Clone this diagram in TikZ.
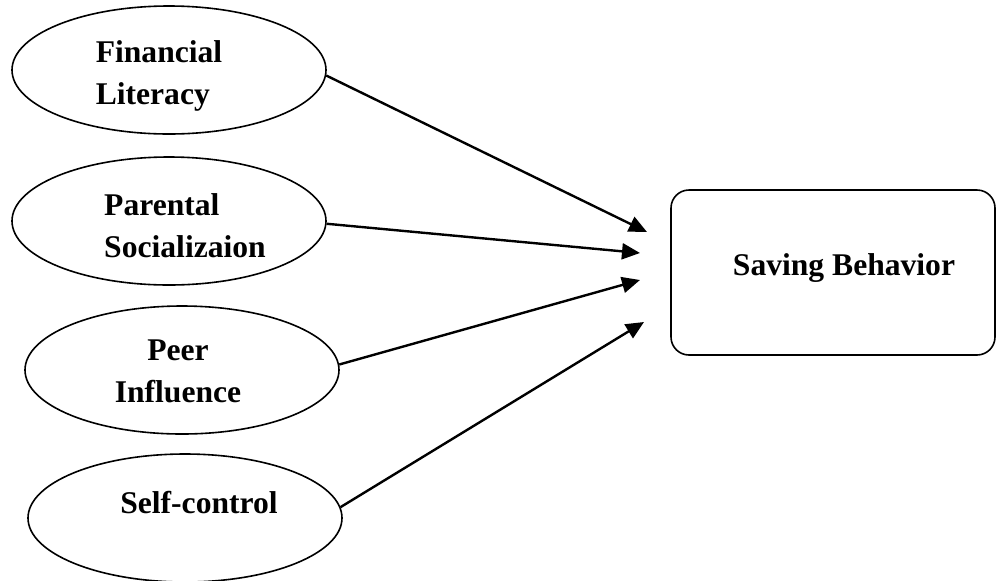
\documentclass[tikz,border=0pt]{standalone}
\usepackage{fontspec}
\setmainfont{Liberation Serif}
\usetikzlibrary{shapes.geometric,arrows.meta}

\tikzset{
  oval/.style={draw,ellipse,line width=.8pt,minimum width=157pt,minimum height=64pt,inner sep=0pt},
  lbl/.style={font=\fontsize{15.8}{21}\selectfont\bfseries,inner sep=0pt},
  outcome/.style={draw,rounded corners=9pt,line width=.8pt,minimum width=162pt,minimum height=82.5pt,inner sep=0pt},
  link/.style={line width=1.2pt,-{Triangle[length=9pt,width=8pt]}}
}

\begin{document}
\begin{tikzpicture}[x=0.5pt,y=-0.5pt]
    \useasboundingbox (0,0) rectangle (997,580);

    % the four predictors
    \node[oval] (fl) at (169,70) {};
    \node[oval] (ps) at (169,221) {};
    \node[oval] (pi) at (182,370) {};
    \node[oval] (sc) at (185,518) {};

    \node[lbl,align=left] (flt) at (159,76) {Financial\\Literacy};
    \node[lbl,align=left] (pst) at (185,226) {Parental\\Socializaion};
    \node[lbl,align=center] (pit) at (178,371) {Peer\\Influence};
    \node[lbl] (sct) at (199,503) {Self-control};

    % outcome
    \node[outcome] (sb) at (833,272.5) {};
    \node[lbl] (sbt) at (844,268) {Saving Behavior};

    \coordinate (t1) at (647,232);
    \coordinate (t2) at (640,253);
    \coordinate (t3) at (640,280);
    \coordinate (t4) at (644,322);

    \draw[link] (fl.-2) -- (t1);
    \draw[link] (ps.-1) -- (t2);
    \draw[link] (pi.2) -- (t3);
    \draw[link] (sc.4) -- (t4);
\end{tikzpicture}
\end{document}
